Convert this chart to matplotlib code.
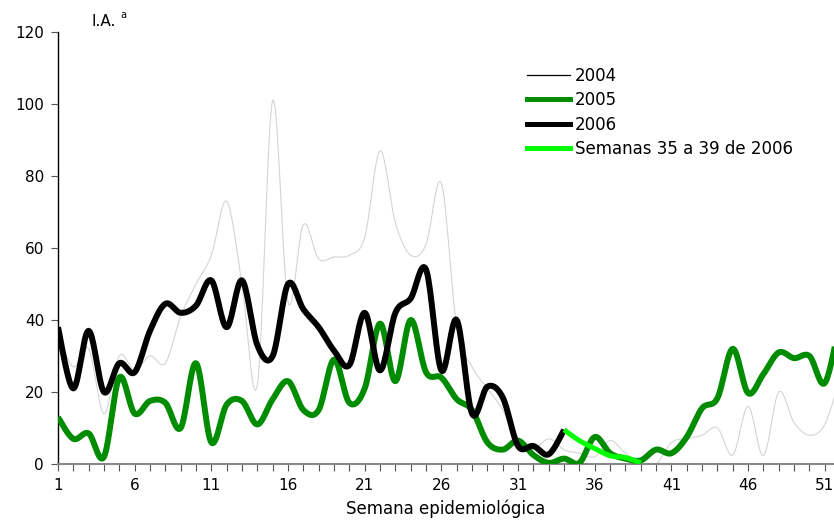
import numpy as np
import matplotlib.pyplot as plt
from matplotlib.lines import Line2D

plt.rcParams['font.family'] = ['DejaVu Sans']

# --- data: weekly incidence (I.A.) ---
weeks = np.arange(1, 53)
ia_2004 = [36, 27, 32, 14, 30, 26, 30, 28, 41, 50, 58, 73, 50, 22, 101, 45, 66.5, 57,
           57.5, 58, 63, 87, 67, 58, 61, 78, 38, 27, 21, 15, 6, 4, 7, 4, 3, 2, 6.5, 3,
           0.5, 0, 6, 7, 8, 10, 2.5, 16, 2.3, 20, 11.5, 8, 11, 24]
ia_2005 = [13, 7, 8.5, 2, 24, 14, 17.5, 17, 10, 28, 6, 16.5, 17.5, 11, 18, 23, 15, 15,
           29, 17, 21, 39, 23, 40, 25.5, 24, 18, 15, 6, 4, 6.5, 2.5, 0.3, 1.5, 0.3, 7.5,
           3, 1.5, 1, 4, 3, 7.5, 15.5, 18.3, 32, 19.7, 25, 31, 29.4, 30, 22.5, 40]
weeks_2006 = np.arange(1, 35)
ia_2006 = [38, 21, 37, 20, 28, 25.5, 37, 44.5, 42, 44, 51, 38, 51, 33, 30, 50, 43, 38,
           31.5, 27.5, 42, 26, 42, 46, 54, 26, 40, 14, 21.5, 18.5, 5, 5, 2.7, 9.5]
weeks_late = np.arange(34, 40)
ia_late = [9.5, 6.5, 4.3, 2.3, 1.8, 0.3]

labels = ['2004', '2005', '2006', 'Semanas 35 a 39 de 2006']
col_2005 = '#008c00'
col_late = '#00ff00'


def smooth(x, y, n=20):
    # Bezier smoothing like spreadsheet "smoothed line"
    x = np.asarray(x, float)
    y = np.asarray(y, float)
    px = np.concatenate([[x[0]], x, [x[-1]]])
    py = np.concatenate([[y[0]], y, [y[-1]]])
    xs, ys = [], []
    t = np.linspace(0, 1, n)
    for i in range(1, len(x)):
        p0 = np.array([px[i], py[i]])
        p3 = np.array([px[i + 1], py[i + 1]])
        c1 = p0 + (p3 - np.array([px[i - 1], py[i - 1]])) / 6
        c2 = p3 - (np.array([px[i + 2], py[i + 2]]) - p0) / 6
        pts = ((1 - t) ** 3)[:, None] * p0 + (3 * (1 - t) ** 2 * t)[:, None] * c1 \
            + (3 * (1 - t) * t ** 2)[:, None] * c2 + (t ** 3)[:, None] * p3
        xs.append(pts[:, 0])
        ys.append(pts[:, 1])
    return np.concatenate(xs), np.concatenate(ys)


fig = plt.figure(figsize=(8.34, 5.23), dpi=100)
ax = fig.add_axes([0.0695, 0.1128, 0.9305, 0.826])

ax.plot(*smooth(weeks, ia_2004), color='#d4d4d4', lw=0.8, zorder=2)
ax.plot(*smooth(weeks, ia_2005), color=col_2005, lw=4.3, zorder=3, solid_capstyle='butt')
ax.plot(*smooth(weeks_2006, ia_2006), color='black', lw=4.3, zorder=4, solid_capstyle='butt')
ax.plot(*smooth(weeks_late, ia_late), color=col_late, lw=3.6, zorder=5, solid_capstyle='butt')

ax.set_xlim(1, 51.6)
ax.set_ylim(0, 120)
ax.set_yticks(np.arange(0, 121, 20))
ax.set_xticks(np.arange(1, 52, 5))
ax.set_xticks(np.arange(1, 52), minor=True)
ax.tick_params(axis='both', which='both', direction='out', labelsize=11, length=5,
               width=0.8, color='#555555', pad=5)
for s in ['top', 'right']:
    ax.spines[s].set_visible(False)
ax.spines['left'].set_color('black')
ax.spines['bottom'].set_color('#888888')
ax.spines['bottom'].set_linewidth(1.5)
ax.spines['left'].set_linewidth(1.0)

ax.set_xlabel('Semana epidemiológica', fontsize=12, labelpad=5)
fig.text(0.110, 0.945, 'I.A.', fontsize=11, ha='left', va='bottom')
fig.text(0.1445, 0.962, 'a', fontsize=7, ha='left', va='bottom')

handles = [Line2D([], [], color='black', lw=0.9),
           Line2D([], [], color=col_2005, lw=3.6),
           Line2D([], [], color='black', lw=3.6),
           Line2D([], [], color=col_late, lw=3.6)]
ax.legend(handles, labels, loc='upper left', bbox_to_anchor=(0.604, 0.92),
          frameon=False, fontsize=12, handlelength=2.6, handletextpad=0.3,
          labelspacing=0.39, borderaxespad=0, borderpad=0)

fig.savefig('out.png', dpi=100)
